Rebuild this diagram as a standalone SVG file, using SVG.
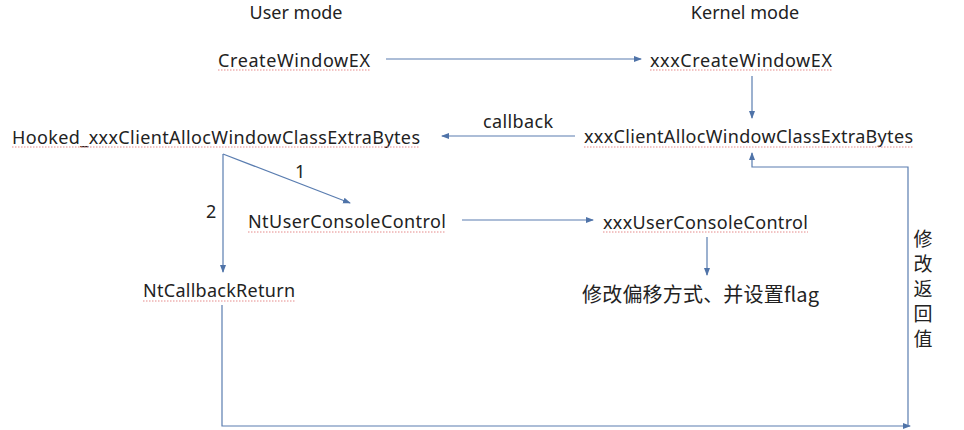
<svg xmlns="http://www.w3.org/2000/svg" width="964" height="430" viewBox="0 0 964 430">
<style>
.t{font-family:"Noto Sans","Liberation Sans","Noto Sans CJK SC",sans-serif;font-size:18px;fill:#222}
.cj{font-family:"Noto Sans CJK SC","Noto Sans",sans-serif;font-size:20px;fill:#222}
.v{font-family:"Noto Sans CJK SC","Noto Sans",sans-serif;font-size:19px;fill:#222}
.c{fill:none;stroke:#5a7db0;stroke-width:1.2}
.sq{fill:none;stroke:#e58a8a;stroke-width:1;stroke-dasharray:1.5 1.5}
</style>
<defs>
<marker id="a" viewBox="0 0 8 8" refX="7" refY="4" markerWidth="8" markerHeight="8" markerUnits="userSpaceOnUse" orient="auto">
<path d="M0,1 L8,4 L0,7 Z" fill="#4f73a8"/>
</marker>
</defs>
<rect width="964" height="430" fill="#fff"/>
<g id="headers">
<text class="t" x="296" y="19" text-anchor="middle">User mode</text>
<text class="t" x="745" y="19" text-anchor="middle">Kernel mode</text>
</g>
<g id="n-createwindow">
<text class="t" x="218" y="67" textLength="152">CreateWindowEX</text>
<line class="sq" x1="218" y1="70" x2="370" y2="70"/>
</g>
<g id="n-xxxcreatewindow">
<text class="t" x="650" y="67" textLength="182">xxxCreateWindowEX</text>
<line class="sq" x1="650" y1="70" x2="832" y2="70"/>
</g>
<g id="n-xxxclientalloc">
<text class="t" x="584" y="143" textLength="329">xxxClientAllocWindowClassExtraBytes</text>
<line class="sq" x1="584" y1="147" x2="913" y2="147"/>
</g>
<g id="n-hooked">
<text class="t" x="12" y="144" textLength="408">Hooked_xxxClientAllocWindowClassExtraBytes</text>
<line class="sq" x1="12" y1="147" x2="420" y2="147"/>
</g>
<g id="n-ntuserconsole">
<text class="t" x="248" y="228" textLength="198">NtUserConsoleControl</text>
<line class="sq" x1="248" y1="232" x2="446" y2="232"/>
</g>
<g id="n-xxxuserconsole">
<text class="t" x="603" y="229" textLength="205">xxxUserConsoleControl</text>
<line class="sq" x1="603" y1="232" x2="808" y2="232"/>
</g>
<g id="n-modify">
<text class="cj" x="582" y="302" textLength="237">修改偏移方式、并设置flag</text>
</g>
<g id="n-ntcallback">
<text class="t" x="143" y="297" textLength="152">NtCallbackReturn</text>
<line class="sq" x1="143" y1="301" x2="295" y2="301"/>
</g>
<g id="connectors">
<line class="c" x1="386" y1="59" x2="641" y2="59" marker-end="url(#a)"/>
<line class="c" x1="752" y1="76" x2="752" y2="118" marker-end="url(#a)"/>
<line class="c" x1="575" y1="136" x2="442" y2="136" marker-end="url(#a)"/>
<line class="c" x1="223" y1="154" x2="350" y2="203" marker-end="url(#a)"/>
<line class="c" x1="223" y1="154" x2="223" y2="272" marker-end="url(#a)"/>
<line class="c" x1="462" y1="220" x2="593" y2="220" marker-end="url(#a)"/>
<line class="c" x1="707" y1="237" x2="707" y2="275" marker-end="url(#a)"/>
<polyline class="c" points="222,305 222,426 910,426" marker-end="url(#a)"/>
<polyline class="c" points="908,426 908,167 752,167 752,153" marker-end="url(#a)"/>
<text class="t" x="483" y="128" textLength="70">callback</text>
<text class="t" x="295" y="178">1</text>
<text class="t" x="206" y="218">2</text>
<g class="v" text-anchor="middle">
<text x="923" y="246">修</text>
<text x="923" y="271">改</text>
<text x="923" y="296">返</text>
<text x="923" y="321">回</text>
<text x="923" y="346">值</text>
</g>
</g>
</svg>
